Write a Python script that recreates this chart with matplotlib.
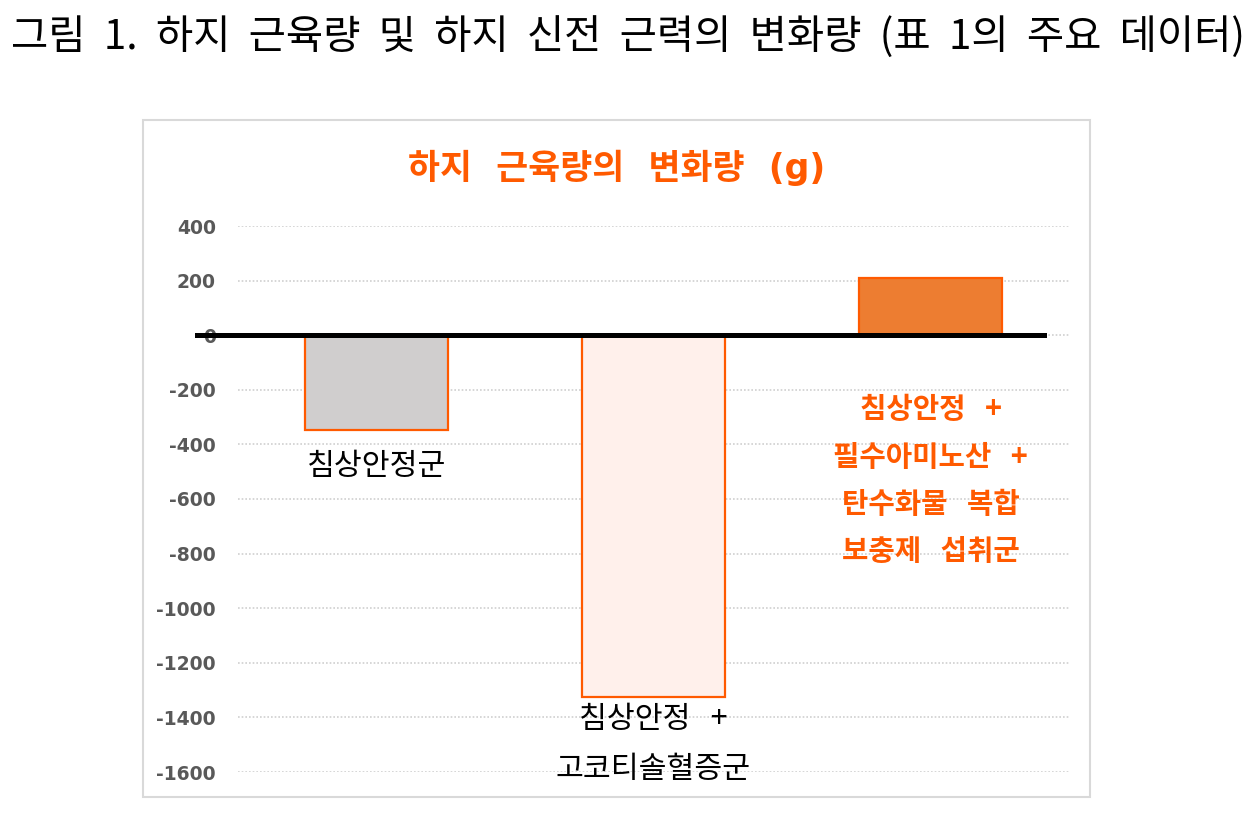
import matplotlib
matplotlib.use("Agg")
import matplotlib.pyplot as plt
from matplotlib.patches import Rectangle

plt.rcParams['font.family'] = ['Noto Sans CJK KR', 'DejaVu Sans']

# ---- data ----
categories = ["침상안정군", "침상안정 +\n고코티솔혈증군", "침상안정 +\n필수아미노산 +\n탄수화물 복합\n보충제 섭취군"]
values = [-348, -1326, 209]
yticks = [400, 200, 0, -200, -400, -600, -800, -1000, -1200, -1400, -1600]
fig_title = "그림 1. 하지 근육량 및 하지 신전 근력의 변화량 (표 1의 주요 데이터)"
chart_title = "하지 근육량의 변화량 (g)"


def widen(s, n=3):
    # the reference font uses much wider word spacing
    return s.replace(" ", " " * n)


W, H = 1254, 815
fig = plt.figure(figsize=(W / 100, H / 100), dpi=100)

# chart frame
fig.patches.append(Rectangle((143 / W, 1 - 797 / H), (1090 - 143) / W, (797 - 120) / H,
                             transform=fig.transFigure, fill=False,
                             edgecolor="#D9D9D9", linewidth=1.5))

ax = fig.add_axes([238 / W, 1 - 772 / H, (1069 - 238) / W, (772 - 226) / H])
ax.set_xlim(-0.5, 2.5)
ax.set_ylim(-1600, 400)
ax.set_yticks(yticks)
ax.set_yticklabels([str(v) for v in yticks], fontsize=13.5, fontweight="bold",
                   color="#595959", family=['DejaVu Sans'])
ax.tick_params(axis="y", length=0, pad=16)
ax.set_xticks([])
for s in ax.spines.values():
    s.set_visible(False)
ax.yaxis.grid(True, linestyle=(0, (1, 1.2)), color="#D0D0D0", linewidth=1.2)
ax.set_axisbelow(True)

fills = ["#D0CECE", "#FFF0EB", "#ED7D31"]
edge = "#FF5A00"
x = list(range(len(values)))
ax.bar(x, values, width=0.516, color=fills, edgecolor=edge, linewidth=1.6, zorder=2)

ax.axhline(0, xmin=(197 - 238) / 831, xmax=(1044 - 238) / 831, color="black",
           linewidth=3.6, clip_on=False, zorder=3)

# labels
ax.text(0, -480, widen(categories[0]), ha="center", va="center", fontsize=21.8, color="black")
ax.text(1, -1500, widen(categories[1]), ha="center", va="center", fontsize=21.8, color="black",
        linespacing=1.77)
ax.text(2, -531, widen(categories[2]), ha="center", va="center", fontsize=20.7, color=edge,
        fontweight="bold", linespacing=1.72)

fig.text(617 / W, 1 - 168 / H, widen(chart_title, 2), ha="center", va="center", fontsize=25,
         fontweight="bold", color=edge, family=['DejaVu Sans', 'Noto Sans CJK KR'])
fig.text(11 / W, 1 - 37 / H, widen(fig_title, 2), ha="left", va="center", fontsize=29.2, color="black")

fig.savefig("out.png", dpi=100)
